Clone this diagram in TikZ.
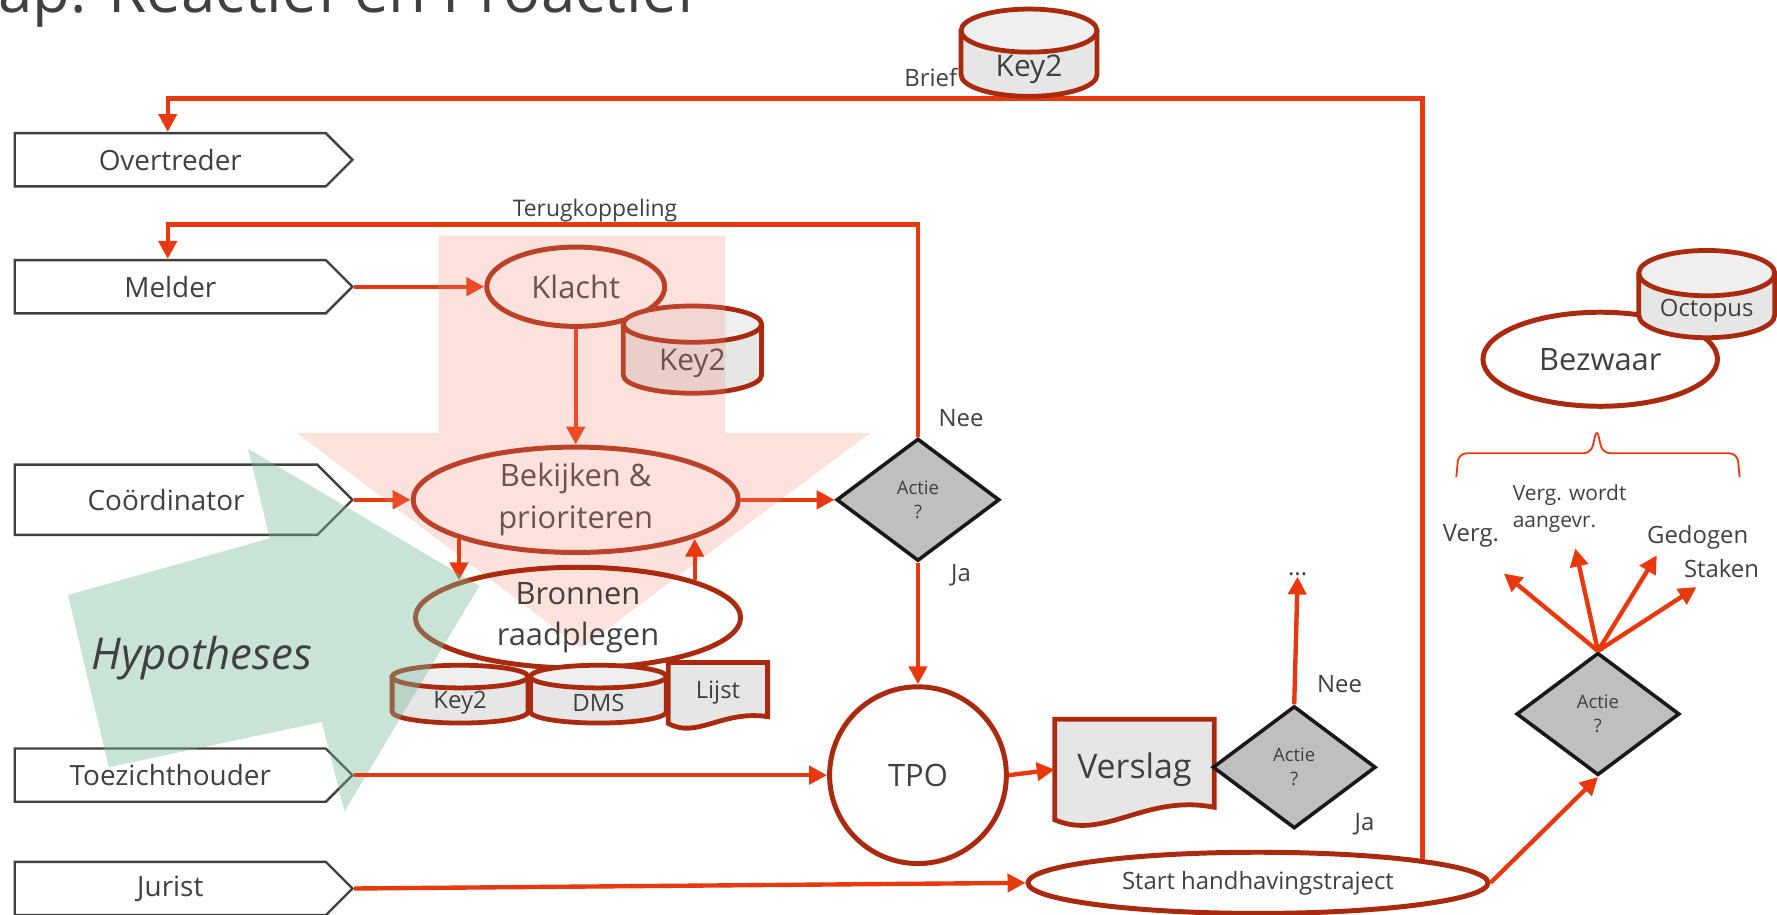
\documentclass[tikz,border=0pt]{standalone}
\usepackage{fontspec}
\setmainfont{Open Sans}
\usepackage{xcolor}
\usetikzlibrary{shapes.geometric,shapes.symbols,arrows.meta,calc,backgrounds}

\definecolor{flowred}{HTML}{E8390E}
\definecolor{darkred}{HTML}{AA2A10}
\definecolor{inkgray}{HTML}{404040}
\definecolor{choicegray}{HTML}{BFBFBF}
\definecolor{storegray}{HTML}{E6E6E6}
\definecolor{storetop}{HTML}{EFEFEF}
\definecolor{pinkfill}{HTML}{F48874}
\definecolor{greenfill}{HTML}{78B998}

\tikzset{
    lane/.style={signal, signal to=east, draw=inkgray, line width=1.2pt, minimum width=5.96cm,
        minimum height=0.94cm, anchor=west, inner sep=0pt, text=inkgray, font=\fontsize{14}{17}\selectfont},
    proc/.style={ellipse, draw=darkred, line width=2.5pt, inner sep=0pt, align=center, text=inkgray,
        font=\fontsize{15.5}{21}\selectfont},
    choice/.style={diamond, draw=black!90, fill=choicegray, line width=1.8pt, minimum width=2.88cm,
        minimum height=2.16cm, inner sep=0pt, align=center, text=inkgray, font=\fontsize{9.3}{12}\selectfont},
    storeline/.style={draw=darkred, line width=2.4pt, fill=storegray},
    storetext/.style={inner sep=0pt, text=inkgray},
    docbox/.style={rectangle, inner sep=0pt, text=inkgray},
    docline/.style={draw=darkred, line width=2.4pt, fill=storegray},
    flow/.style={color=flowred, line width=2.2pt, -{Triangle[length=9pt,width=9pt]}},
    lbl/.style={inner sep=0pt, text=inkgray, font=\fontsize{12}{14}\selectfont}
}

% #1 name, (#2,#3) centre, #4 half width, #5 half height, #6 lid radius, #7 text
\newcommand{\storecyl}[7]{%
    \draw[storeline] (#2-#4,#3-#5+#6) -- (#2-#4,#3+#5-#6)
        arc[start angle=180, end angle=360, x radius=#4*0.02cm, y radius=#6*0.02cm] -- (#2+#4,#3-#5+#6);
    \draw[storeline, fill=storetop] (#2,#3-#5+#6) ellipse[x radius=#4*0.02cm, y radius=#6*0.02cm];
    \node[storetext] (#1) at (#2,#3+0.75*#6) {#7};
}

\begin{document}
\begin{tikzpicture}[x=0.02cm, y=-0.02cm]

    \useasboundingbox (0,0) rectangle (1568,807);

    \node[anchor=base east, inner sep=0pt, text=inkgray, font=\fontsize{31}{36}\selectfont] (title) at (616,11) {Stap: Reactief en Proactief};

    \node[lane] (overtreder) at (12,141) {Overtreder};
    \node[lane] (melder) at (12,253) {Melder};
    \node[lane, minimum height=1.24cm] (coordinator) at (12,441) {Coördinator};
    \node[lane] (toezicht) at (12,684) {Toezichthouder};
    \node[lane] (jurist) at (12,784) {Jurist};

    \node[proc, minimum width=3.14cm, minimum height=1.40cm] (klacht) at (508,253) {Klacht};
    \storecyl{keya}{611}{308.5}{61}{38.5}{16}{\fontsize{15}{18}\selectfont Key2}
    \node[proc, minimum width=5.74cm, minimum height=1.86cm] (bekijken) at (508,441) {Bekijken \&\\prioriteren};
    \node[choice] (actie1) at (810,441) {Actie\\?};

    \path[flow]
        (melder.east) edge (klacht.west)
        (klacht.south) edge (bekijken.north)
        (coordinator.east) edge (bekijken.west)
        (bekijken.east) edge (actie1.west);

    \fill[pinkfill, fill opacity=0.25] (387,208) -- (640,208) -- (640,382) -- (768,382) -- (513,572) -- (262,382) -- (387,382) -- cycle;

    \node[proc, minimum width=5.74cm, minimum height=1.60cm] (bronnen) at (510,545) {Bronnen\\raadplegen};
    \path[flow]
        (bekijken.south west) edge (bekijken.south west |- bronnen.north west)
        (bronnen.north east) edge (bronnen.north east |- bekijken.south east);

    \storecyl{keyb}{406}{612.5}{60}{25.5}{10}{\fontsize{12}{14}\selectfont Key2}
    \storecyl{dms}{528}{612.5}{60}{25.5}{10}{\fontsize{12}{14}\selectfont DMS}
    \node[docbox, minimum width=1.74cm, minimum height=1.06cm, font=\fontsize{12}{14}\selectfont] (lijst) at (633.5,611.5) {Lijst};

    \fill[greenfill, fill opacity=0.4] (96,677) -- (60,525) -- (238,475) -- (219,396) -- (423,517) -- (304,716) -- (284,637) -- cycle;
    \node[lbl, font=\fontsize{22}{26}\selectfont\itshape] (hypotheses) at (178,581) {Hypotheses};

    \node[proc, circle, minimum size=3.12cm] (tpo) at (810,684) {TPO};
    \node[docbox, minimum width=2.8cm, minimum height=1.76cm, font=\fontsize{17}{20}\selectfont] (verslag) at (1001,679) {Verslag};
    \node[choice] (actie2) at (1142,677) {Actie\\?};
    \node[proc, minimum width=8.12cm, minimum height=1.08cm, font=\fontsize{12}{14}\selectfont] (start) at (1110,779) {Start handhavingstraject};
    \node[choice] (actie3) at (1410,630) {Actie\\?};
    \node[proc, minimum width=4.14cm, minimum height=1.66cm] (bezwaar) at (1412,317) {Bezwaar};
    \storecyl{octopus}{1506}{259.5}{60}{38.5}{20}{\fontsize{12}{14}\selectfont Octopus}

    \begin{scope}[on background layer]
        \draw[docline] (verslag.south west) .. controls ($(verslag.south west)+(44,19)$) and ($(verslag.south east)+(-61,-23)$) .. ($(verslag.south east)+(0,-11)$)
            -- (verslag.north east) -- (verslag.north west) -- cycle;
        \draw[docline] (lijst.south west) .. controls ($(lijst.south west)+(25,14)$) and ($(lijst.south east)+(-40,-12)$) .. ($(lijst.south east)+(0,-6)$)
            -- (lijst.north east) -- (lijst.north west) -- cycle;
    \end{scope}

    \path[flow]
        (actie1.south) edge (tpo.north)
        (toezicht.east) edge (tpo.west)
        (tpo.east) edge (verslag.west)
        (jurist.east) edge (start.west)
        (start.east) edge (actie3.south);

    \node[lbl] (more) at (1145,507) {...};
    \path[flow] (actie2.north) edge (more.south);

    \coordinate (terugbend) at (148,198);
    \draw[flow] (actie1.north) |- (terugbend) -- (terugbend |- melder.north);
    \node[lbl, font=\fontsize{11.5}{14}\selectfont] (terug) at (525,186) {Terugkoppeling};

    \coordinate (briefbend) at (148,87);
    \draw[flow] (start.north east) |- (briefbend) -- (briefbend |- overtreder.north);
    \storecyl{keyc}{908}{46.5}{60}{38.5}{19}{\fontsize{15}{18}\selectfont Key2}
    \node[lbl, anchor=east] (brief) at (845,68) {Brief};

    \node[lbl] (nee1) at (848,369) {Nee};
    \node[lbl] (ja1) at (848,508) {Ja};
    \node[lbl] (nee2) at (1182,604) {Nee};
    \node[lbl] (ja2) at (1204,727) {Ja};

    \node[lbl] (verg) at (1298,473) {Verg.};
    \node[lbl, align=left, font=\fontsize{10.5}{13.7}\selectfont] (aangevr) at (1385,449) {Verg. wordt\\aangevr.};
    \node[lbl] (gedogen) at (1498,474) {Gedogen};
    \node[lbl] (staken) at (1519,502) {Staken};

    \coordinate (fverg) at (1327,506);
    \coordinate (faangevr) at (1390,484);
    \coordinate (fgedogen) at (1462,490);
    \coordinate (fstaken) at (1497,518);
    \foreach \tgt in {fverg,faangevr,fgedogen,fstaken}
        \draw[flow] (actie3.north) -- (\tgt);

    \draw[flowred, line width=0.9pt, rounded corners=4pt] (1285,421) -- (1287,400) -- (1404,400) -- (1409,378) -- (1414,400) -- (1533,400) -- (1535,421);

\end{tikzpicture}
\end{document}
